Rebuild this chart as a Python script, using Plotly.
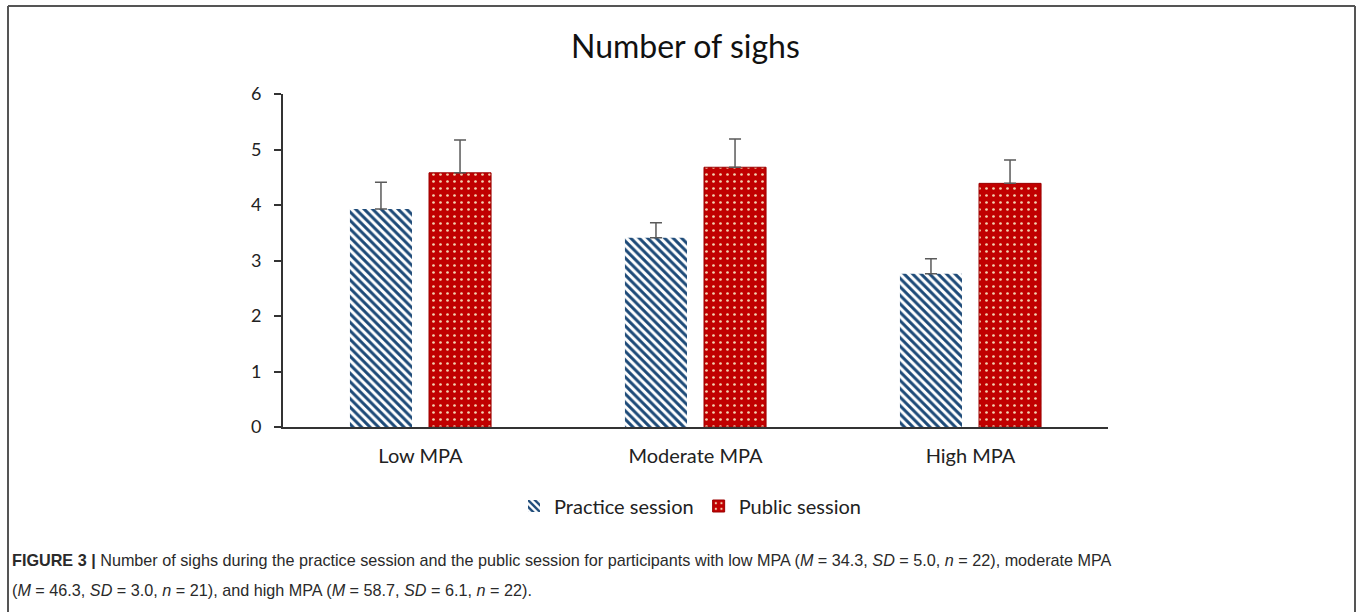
import plotly.graph_objects as go

# Mean number of sighs per MPA group, with upper error (SE) bars
categories = ["Low MPA", "Moderate MPA", "High MPA"]
practice = [3.93, 3.41, 2.76]
practice_err = [0.48, 0.27, 0.27]
public = [4.58, 4.68, 4.39]
public_err = [0.59, 0.51, 0.42]
y_ticks = [0, 1, 2, 3, 4, 5, 6]

W, H = 1358, 612
L, R, T, B = 283, 1108, 94, 427  # plot area in pixels


def px_x(x):
    return (x - L) / (R - L)


def px_y(y):
    return (B - y) / (B - T)


fig = go.Figure()
fig.add_trace(go.Bar(
    name="Practice session",
    x=categories, y=practice,
    marker=dict(
        color="white",
        line=dict(width=0),
        pattern=dict(shape="\\", fgcolor="#1d4a78", bgcolor="white",
                     size=6, solidity=0.5, fillmode="replace"),
    ),
    error_y=dict(type="data", symmetric=False, array=practice_err,
                 arrayminus=[0] * len(practice_err),
                 color="#5a5a5a", thickness=1.5, width=6),
))
fig.add_trace(go.Bar(
    name="Public session",
    x=categories, y=public,
    marker=dict(
        color="#c00000",
        line=dict(width=1, color="#9a0000"),
        pattern=dict(shape=".", fgcolor="#f3d2b0", bgcolor="#c00000",
                     size=7, solidity=0.12, fillmode="replace"),
    ),
    error_y=dict(type="data", symmetric=False, array=public_err,
                 arrayminus=[0] * len(public_err),
                 color="#5a5a5a", thickness=1.5, width=6),
))

chart_font = "Lato, 'Open Sans', sans-serif"
caption_font = "'Liberation Sans', Arial, sans-serif"

fig.update_layout(
    width=W, height=H,
    margin=dict(l=L, r=W - R, t=T, b=H - B, pad=0),
    paper_bgcolor="white", plot_bgcolor="white",
    barmode="group", bargap=0.425, bargroupgap=0.215,
    showlegend=True,
    legend=dict(orientation="h", x=px_x(690), y=px_y(506),
                xanchor="center", yanchor="middle",
                font=dict(family=chart_font, size=20, color="#222"),
                itemwidth=30, tracegroupgap=0),
    xaxis=dict(showline=True, linecolor="#333", linewidth=2,
               ticks="", showgrid=False, zeroline=False,
               tickfont=dict(family=chart_font, size=20, color="#222"),
               ticklabelstandoff=10),
    yaxis=dict(range=[0, 6], tickvals=y_ticks, showline=True,
               linecolor="#333", linewidth=2, ticks="outside",
               ticklen=7, tickwidth=2, tickcolor="#333",
               showgrid=False, zeroline=False,
               tickfont=dict(family=chart_font, size=18, color="#222"),
               ticklabelstandoff=9),
    font=dict(family=chart_font),
)

# Chart title
fig.add_annotation(text="Number of sighs", xref="paper", yref="paper",
                   x=px_x(685), y=px_y(45), xanchor="center", yanchor="middle",
                   showarrow=False,
                   font=dict(family=chart_font, size=32, color="#111"))

# Figure caption
cap1 = ("<b>FIGURE 3 |</b> Number of sighs during the practice session and the public "
        "session for participants with low MPA (<i>M</i> = 34.3, <i>SD</i> = 5.0, "
        "<i>n</i> = 22), moderate MPA")
cap2 = ("(<i>M</i> = 46.3, <i>SD</i> = 3.0, <i>n</i> = 21), and high MPA "
        "(<i>M</i> = 58.7, <i>SD</i> = 6.1, <i>n</i> = 22).")
for text, ypx in [(cap1, 560), (cap2, 590)]:
    fig.add_annotation(text=text, xref="paper", yref="paper",
                       x=px_x(10), y=px_y(ypx), xanchor="left", yanchor="middle",
                       showarrow=False, align="left",
                       font=dict(family=caption_font, size=16.2, color="#2a2a2a"))

# Frame around the figure panel (open at the bottom edge of the page)
frame = dict(type="line", xref="paper", yref="paper",
             line=dict(color="#555", width=2))
fig.add_shape(**frame, x0=px_x(8), x1=px_x(8), y0=px_y(620), y1=px_y(6))
fig.add_shape(**frame, x0=px_x(1355), x1=px_x(1355), y0=px_y(620), y1=px_y(6))
fig.add_shape(**frame, x0=px_x(8), x1=px_x(1355), y0=px_y(6), y1=px_y(6))

fig.write_html("out.html")
